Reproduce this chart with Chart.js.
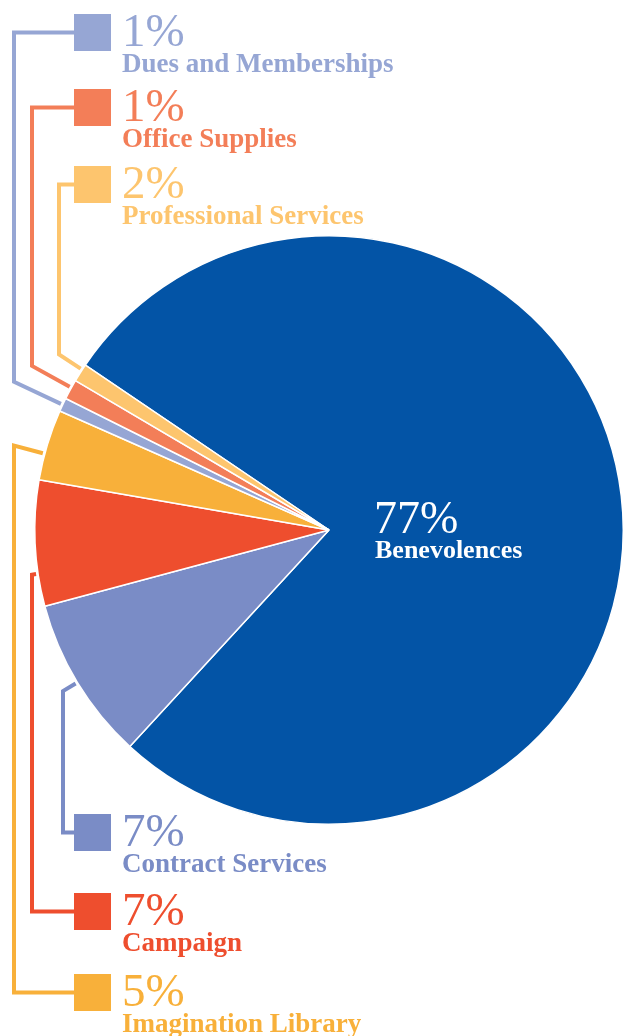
<!DOCTYPE html>
<html>
<head>
<meta charset="utf-8">
<script src="https://cdn.jsdelivr.net/npm/chart.js@4"></script>
<style>
  html, body { margin: 0; padding: 0; background: #fff; }
  canvas { display: block; }
</style>
</head>
<body>
<canvas id="budgetChart" width="624" height="1036"></canvas>
<script>
// data (slice sizes estimated from the angles)
const categories = ['Benevolences', 'Contract Services', 'Campaign', 'Imagination Library',
                    'Dues and Memberships', 'Office Supplies', 'Professional Services'];
const values = [77.4, 9.0, 6.9, 3.9, 0.75, 1.1, 1.0];
const pctLabels = ['77%', '7%', '7%', '5%', '1%', '1%', '2%'];
const colors = ['#0354a6', '#7a8cc6', '#ee4e2e', '#f8b03a', '#96a6d4', '#f37e58', '#fdc56e'];

// callout layout: box top, vertical connector x, where along the slice the connector lands
const callouts = [
  null,
  { top: 814, vx: 63, anchor: 0.5 },
  { top: 893, vx: 32, anchor: 0.26 },
  { top: 974, vx: 14, anchor: 0.37 },
  { top: 14,  vx: 14, anchor: 0.5 },
  { top: 89,  vx: 32, anchor: 0.6 },
  { top: 166, vx: 59, anchor: 0.7 }
];

const calloutPlugin = {
  id: 'callouts',
  afterDraw(chart) {
    const ctx = chart.ctx;
    const meta = chart.getDatasetMeta(0);
    const boxX = 74, boxSize = 37, textX = 122;

    ctx.save();
    meta.data.forEach((arc, i) => {
      const c = callouts[i];
      if (!c) return;
      const a = arc.startAngle + (arc.endAngle - arc.startAngle) * c.anchor;
      const r = arc.outerRadius + 2;
      const ex = arc.x + r * Math.cos(a);
      const ey = arc.y + r * Math.sin(a);
      const t = (c.vx - arc.x) / Math.cos(a);
      const elbowY = arc.y + t * Math.sin(a);
      const midY = c.top + boxSize / 2;

      ctx.strokeStyle = colors[i];
      ctx.lineWidth = 4;
      ctx.lineJoin = 'miter';
      ctx.beginPath();
      ctx.moveTo(boxX + 2, midY);
      ctx.lineTo(c.vx, midY);
      ctx.lineTo(c.vx, elbowY);
      ctx.lineTo(ex, ey);
      ctx.stroke();

      ctx.fillStyle = colors[i];
      ctx.fillRect(boxX, c.top, boxSize, boxSize);

      ctx.textAlign = 'left';
      ctx.textBaseline = 'alphabetic';
      ctx.font = '47px "Liberation Serif", serif';
      ctx.fillText(pctLabels[i], textX, c.top + 32);
      ctx.font = 'bold 27px "Liberation Serif", serif';
      ctx.fillText(categories[i], textX, c.top + 58);
    });

    // main slice label inside the pie
    ctx.fillStyle = '#ffffff';
    ctx.font = '46px "Liberation Serif", serif';
    ctx.fillText(pctLabels[0], 374, 533);
    ctx.font = 'bold 26px "Liberation Serif", serif';
    ctx.fillText(categories[0], 375, 558);
    ctx.restore();
  }
};

new Chart(document.getElementById('budgetChart').getContext('2d'), {
  type: 'pie',
  data: {
    labels: categories,
    datasets: [{
      data: values,
      backgroundColor: colors,
      borderColor: '#ffffff',
      borderWidth: 1.5
    }]
  },
  options: {
    responsive: false,
    animation: false,
    rotation: 304.1,
    layout: { padding: { left: 34, right: 0, top: 235, bottom: 211 } },
    plugins: {
      legend: { display: false },
      tooltip: { enabled: false }
    }
  },
  plugins: [calloutPlugin]
});
</script>
</body>
</html>
